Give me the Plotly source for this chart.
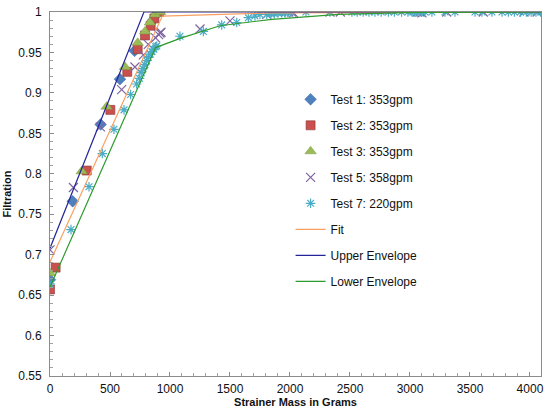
import plotly.graph_objects as go

# ---- data ----
t1_x = [0, 189, 422, 583, 705, 860, 910]
t1_y = [0.669, 0.766, 0.861, 0.917, 0.952, 0.99, 1.0]

t2_x = [0, 47, 306, 503, 644, 731, 792, 839, 870, 889, 910]
t2_y = [0.657, 0.684, 0.804, 0.879, 0.926, 0.954, 0.971, 0.983, 0.992, 1.0, 1.0]

t3_x = [0, 264, 472, 625, 731, 792, 833, 875, 917]
t3_y = [0.677, 0.803, 0.883, 0.932, 0.962, 0.976, 0.987, 0.997, 1.0]

t5_x = [0, 195, 420, 597, 708, 778, 819, 880, 905, 917, 925, 1250, 1500, 1806,
        1990, 2014, 2030, 2333, 2420, 3060, 3083, 3100, 3306, 3611, 3950, 4060]
t5_y = [0.706, 0.783, 0.858, 0.904, 0.932, 0.947, 0.960, 0.968, 0.972, 0.974, 0.975,
        0.979, 0.989, 0.997, 1.0, 1.0, 0.999, 1.0, 1.0, 1.0, 1.0, 0.999, 1.0, 1.0, 1.0, 1.0]

t7_x = [0, 175, 325, 436, 533, 617, 672, 722, 745, 760, 775, 790, 805, 820, 835, 850,
        865, 880, 890, 1083, 1278, 1431, 1556, 1653, 1708, 1750, 1806, 1840, 1870,
        1900, 1930, 1960, 1990, 2010, 2133, 2333, 2516, 2560, 2610, 2658, 2708, 2760,
        2820, 2870, 2930, 2983, 3017, 3040, 3060, 3080, 3100, 3125, 3183, 3292, 3375,
        3542, 3600, 3683, 3767, 3820, 3870, 3920, 3970, 4010, 4050, 4090]
t7_y = [0.664, 0.731, 0.784, 0.825, 0.855, 0.879, 0.898, 0.911, 0.918, 0.925, 0.930,
        0.935, 0.940, 0.944, 0.948, 0.951, 0.954, 0.957, 0.958, 0.970, 0.976, 0.984,
        0.987, 0.993, 0.995, 0.997, 0.997, 0.998, 0.998, 0.999, 0.999, 0.999, 1.0,
        1.0, 1.0, 1.0, 1.0, 1.0, 1.0, 1.0, 1.0, 1.0, 1.0, 1.0, 1.0, 1.0, 1.0, 1.0,
        1.0, 1.0, 1.0, 1.0, 1.0, 1.0, 1.0, 1.0, 1.0, 1.0, 1.0, 1.0, 1.0, 1.0, 1.0,
        1.0, 1.0, 1.0]

fit_x = [0, 936, 1850, 4100]
fit_y = [0.691, 0.995, 0.999, 1.0]

upper_x = [0, 783, 4100]
upper_y = [0.708, 1.0, 1.0]

lower_x = [0, 880, 1097, 1417, 1850, 2406, 3040, 4100]
lower_y = [0.660, 0.956, 0.968, 0.983, 0.991, 0.997, 0.9995, 1.0]

x_ticks = [0, 500, 1000, 1500, 2000, 2500, 3000, 3500, 4000]
y_ticks = [0.55, 0.6, 0.65, 0.7, 0.75, 0.8, 0.85, 0.9, 0.95, 1.0]
y_tick_text = ["0.55", "0.6", "0.65", "0.7", "0.75", "0.8", "0.85", "0.9", "0.95", "1"]

FONT = "Liberation Sans"

fig = go.Figure()

fig.add_trace(go.Scatter(x=t1_x, y=t1_y, mode="markers", name="Test 1: 353gpm",
                         legendgroup="a",
                         marker=dict(symbol="diamond", size=9, color="#4F81BD",
                                     line=dict(color="#3B6AA0", width=0.5))))
fig.add_trace(go.Scatter(x=t2_x, y=t2_y, mode="markers", name="Test 2: 353gpm",
                         legendgroup="b",
                         marker=dict(symbol="square", size=9, color="#C9504D",
                                     line=dict(color="#8C3836", width=0.6))))
fig.add_trace(go.Scatter(x=t3_x, y=t3_y, mode="markers", name="Test 3: 353gpm",
                         legendgroup="c",
                         marker=dict(symbol="triangle-up", size=10, color="#9BBB59",
                                     line=dict(color="#7A9A3E", width=0.5))))
fig.add_trace(go.Scatter(x=t5_x, y=t5_y, mode="markers", name="Test 5: 358gpm",
                         legendgroup="d",
                         marker=dict(symbol="x-thin-open", size=9, color="#8064A2",
                                     line=dict(color="#8064A2", width=1.2))))
fig.add_trace(go.Scatter(x=t7_x, y=t7_y, mode="markers", name="Test 7: 220gpm",
                         legendgroup="e",
                         marker=dict(symbol="asterisk-open", size=8, color="#4BACC6",
                                     line=dict(color="#4BACC6", width=1.2))))
fig.add_trace(go.Scatter(x=fit_x, y=fit_y, mode="lines", name="Fit", legendgroup="f",
                         line=dict(color="#F9A060", width=1.2)))
fig.add_trace(go.Scatter(x=upper_x, y=upper_y, mode="lines", name="Upper Envelope",
                         legendgroup="g", line=dict(color="#25259A", width=1.2)))
fig.add_trace(go.Scatter(x=lower_x, y=lower_y, mode="lines", name="Lower Envelope",
                         legendgroup="h", line=dict(color="#2E9B2E", width=1.2)))

fig.update_layout(
    width=544, height=408,
    margin=dict(l=50, r=3, t=12, b=32, autoexpand=False),
    paper_bgcolor="white", plot_bgcolor="white",
    font=dict(family=FONT, size=12, color="#111111"),
    showlegend=True,
    legend=dict(x=0.49, y=0.80, xanchor="left", yanchor="top",
                bgcolor="rgba(0,0,0,0)", font=dict(family=FONT, size=12, color="#111111"),
                tracegroupgap=7, traceorder="grouped"),
)

fig.update_xaxes(range=[0, 4092], tickvals=x_ticks, showgrid=False, zeroline=False,
                 showline=True, linecolor="#8C8C8C", linewidth=1, mirror=True,
                 ticks="inside", ticklen=4, tickcolor="#8C8C8C", ticklabelstandoff=2,
                 automargin=False,
                 minor=dict(ticks="inside", dtick=100, ticklen=3, tickcolor="#A0A0A0"),
                 tickfont=dict(size=12),
                 title=dict(text="<b>Strainer Mass in Grams</b>", font=dict(size=11), standoff=0))
fig.update_yaxes(range=[0.55, 1.0], tickvals=y_ticks, ticktext=y_tick_text,
                 showgrid=False, zeroline=False,
                 showline=True, linecolor="#8C8C8C", linewidth=1, mirror=True,
                 ticks="inside", ticklen=4, tickcolor="#8C8C8C", ticklabelstandoff=5,
                 automargin=False,
                 minor=dict(ticks="inside", dtick=0.01, ticklen=3, tickcolor="#A0A0A0"),
                 tickfont=dict(size=12),
                 title=dict(text="<b>Filtration</b>", font=dict(size=11), standoff=4))

fig.write_html("out.html", config={"displayModeBar": False},
               post_script="document.body.style.margin='0';document.body.style.overflow='hidden';")
